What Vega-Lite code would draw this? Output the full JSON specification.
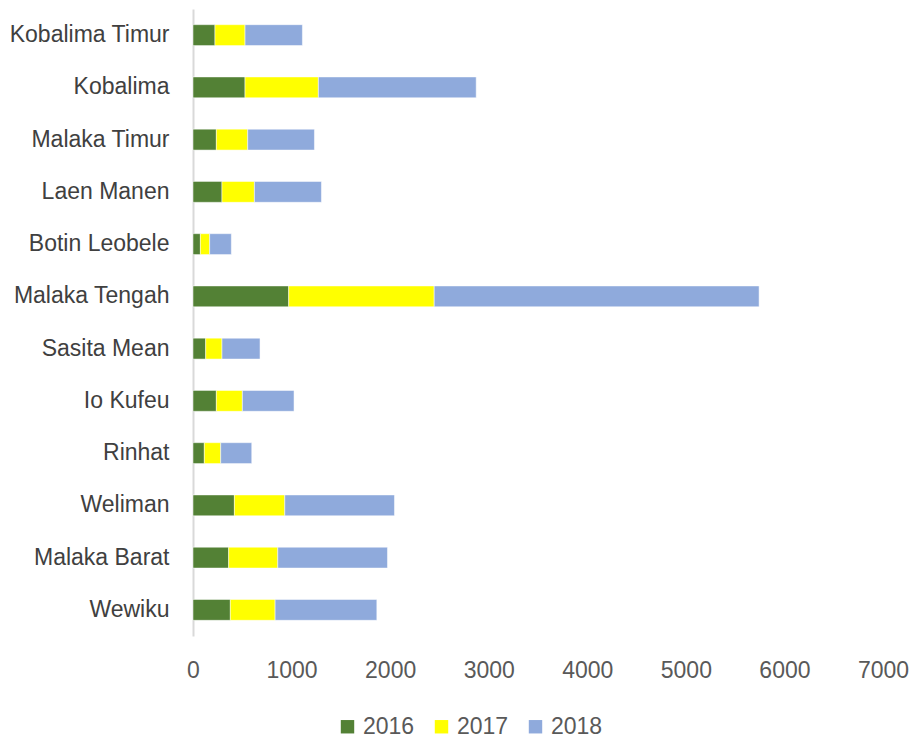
{
  "$schema": "https://vega.github.io/schema/vega-lite/v6.json",
  "width": 690,
  "height": 627,
  "autosize": "none",
  "padding": {"left": 193, "top": 9, "right": 35, "bottom": 102},
  "background": "white",
  "config": {"view": {"stroke": null}, "font": "Liberation Sans"},
  "data": {
    "values": [
      {"kecamatan": "Kobalima Timur", "tahun": "2016", "nilai": 223},
      {"kecamatan": "Kobalima Timur", "tahun": "2017", "nilai": 305},
      {"kecamatan": "Kobalima Timur", "tahun": "2018", "nilai": 582},
      {"kecamatan": "Kobalima", "tahun": "2016", "nilai": 528},
      {"kecamatan": "Kobalima", "tahun": "2017", "nilai": 744},
      {"kecamatan": "Kobalima", "tahun": "2018", "nilai": 1601},
      {"kecamatan": "Malaka Timur", "tahun": "2016", "nilai": 237},
      {"kecamatan": "Malaka Timur", "tahun": "2017", "nilai": 318},
      {"kecamatan": "Malaka Timur", "tahun": "2018", "nilai": 677},
      {"kecamatan": "Laen Manen", "tahun": "2016", "nilai": 294},
      {"kecamatan": "Laen Manen", "tahun": "2017", "nilai": 329},
      {"kecamatan": "Laen Manen", "tahun": "2018", "nilai": 680},
      {"kecamatan": "Botin Leobele", "tahun": "2016", "nilai": 75},
      {"kecamatan": "Botin Leobele", "tahun": "2017", "nilai": 94},
      {"kecamatan": "Botin Leobele", "tahun": "2018", "nilai": 220},
      {"kecamatan": "Malaka Tengah", "tahun": "2016", "nilai": 971},
      {"kecamatan": "Malaka Tengah", "tahun": "2017", "nilai": 1476},
      {"kecamatan": "Malaka Tengah", "tahun": "2018", "nilai": 3296},
      {"kecamatan": "Sasita Mean", "tahun": "2016", "nilai": 129},
      {"kecamatan": "Sasita Mean", "tahun": "2017", "nilai": 165},
      {"kecamatan": "Sasita Mean", "tahun": "2018", "nilai": 386},
      {"kecamatan": "Io Kufeu", "tahun": "2016", "nilai": 237},
      {"kecamatan": "Io Kufeu", "tahun": "2017", "nilai": 264},
      {"kecamatan": "Io Kufeu", "tahun": "2018", "nilai": 524},
      {"kecamatan": "Rinhat", "tahun": "2016", "nilai": 115},
      {"kecamatan": "Rinhat", "tahun": "2017", "nilai": 166},
      {"kecamatan": "Rinhat", "tahun": "2018", "nilai": 315},
      {"kecamatan": "Weliman", "tahun": "2016", "nilai": 420},
      {"kecamatan": "Weliman", "tahun": "2017", "nilai": 511},
      {"kecamatan": "Weliman", "tahun": "2018", "nilai": 1113},
      {"kecamatan": "Malaka Barat", "tahun": "2016", "nilai": 362},
      {"kecamatan": "Malaka Barat", "tahun": "2017", "nilai": 498},
      {"kecamatan": "Malaka Barat", "tahun": "2018", "nilai": 1113},
      {"kecamatan": "Wewiku", "tahun": "2016", "nilai": 379},
      {"kecamatan": "Wewiku", "tahun": "2017", "nilai": 454},
      {"kecamatan": "Wewiku", "tahun": "2018", "nilai": 1032}
    ]
  },
  "mark": {"type": "bar", "stroke": "#ffffff", "strokeOpacity": 0.5, "strokeWidth": 1},
  "encoding": {
    "y": {
      "field": "kecamatan",
      "type": "nominal",
      "sort": null,
      "scale": {"paddingInner": 0.6, "paddingOuter": 0.3},
      "axis": {
        "title": null,
        "ticks": false,
        "domain": true,
        "domainColor": "#d9d9d9",
        "domainWidth": 2,
        "labelFontSize": 23,
        "labelColor": "#404040",
        "labelPadding": 24,
        "labelLimit": 300
      }
    },
    "x": {
      "field": "nilai",
      "type": "quantitative",
      "stack": "zero",
      "scale": {"domain": [0, 7000], "nice": false},
      "axis": {
        "title": null,
        "values": [0, 1000, 2000, 3000, 4000, 5000, 6000, 7000],
        "format": "d",
        "grid": false,
        "domain": false,
        "ticks": false,
        "labelFontSize": 23,
        "labelColor": "#595959",
        "labelPadding": 23,
        "labelFlush": false
      }
    },
    "color": {
      "field": "tahun",
      "type": "nominal",
      "scale": {"domain": ["2016", "2017", "2018"], "range": ["#538135", "#FFFF00", "#8FAADC"]},
      "legend": {
        "title": null,
        "orient": "none",
        "direction": "horizontal",
        "legendX": 143,
        "legendY": 706,
        "symbolType": "square",
        "symbolSize": 180,
        "symbolStrokeWidth": 0,
        "labelFontSize": 23,
        "labelColor": "#595959",
        "columnPadding": 15,
        "labelOffset": 4
      }
    },
    "order": {"field": "tahun", "type": "ordinal"}
  }
}
